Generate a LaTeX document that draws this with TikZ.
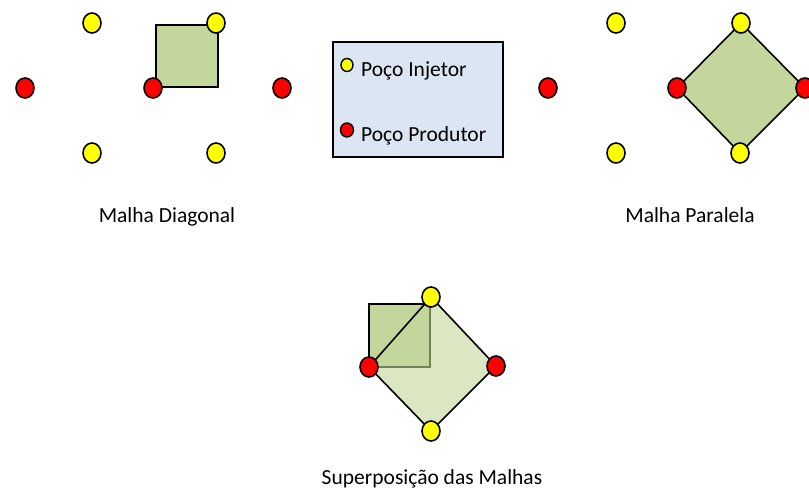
\documentclass[tikz,border=0pt]{standalone}
\usepackage{fontspec}
\setmainfont{Carlito}
\usetikzlibrary{shapes.geometric}
\definecolor{injy}{HTML}{FFFF00}
\definecolor{prodr}{HTML}{FF0000}
\definecolor{meshg}{HTML}{C3D69B}
\definecolor{legb}{HTML}{DCE6F2}
\tikzset{
  inj/.style={ellipse,draw=black,line width=1.6pt,fill=injy,minimum width=18pt,minimum height=20pt,inner sep=0pt},
  prod/.style={ellipse,draw=black,line width=1.6pt,fill=prodr,minimum width=18pt,minimum height=20pt,inner sep=0pt},
  sinj/.style={ellipse,draw=black,line width=1.4pt,fill=injy,minimum width=12pt,minimum height=13pt,inner sep=0pt},
  sprod/.style={ellipse,draw=black,line width=1.4pt,fill=prodr,minimum width=13pt,minimum height=14pt,inner sep=0pt},
  lbl/.style={anchor=base,inner sep=0pt,font=\fontsize{21.5}{25}\selectfont},
  meshline/.style={draw=black,line width=1.6pt,line join=miter},
}
\begin{document}
\begin{tikzpicture}[x=1pt,y=-1pt]
\useasboundingbox (0,0) rectangle (809,494);
% ---- Malha Diagonal ----
\filldraw[fill=meshg,meshline] (156,25) rectangle (218,87);
\node[inj] (d1) at (92,23) {};
\node[inj] (d2) at (216,23) {};
\node[inj] (d3) at (92,153) {};
\node[inj] (d4) at (216,153) {};
\node[prod] (d5) at (25,88) {};
\node[prod] (d6) at (153,88) {};
\node[prod] (d7) at (282,88) {};
\node[lbl] (dl) at (167,223) {Malha Diagonal};
% ---- Legend ----
\node[draw=black,line width=1.5pt,fill=legb,minimum width=170pt,minimum height=115pt,inner sep=0pt] (leg) at (418,99.5) {};
\node[sinj] (lg1) at (347,65) {};
\node[sprod] (lg2) at (347,130) {};
\node[lbl,anchor=base west] (lt1) at (361,77) {Poço Injetor};
\node[lbl,anchor=base west] (lt2) at (361,142) {Poço Produtor};
% ---- Malha Paralela ----
\coordinate (pt) at (741,23);
\coordinate (pl) at (677,88);
\coordinate (pr) at (805,88);
\coordinate (pb) at (740,153);
\filldraw[fill=meshg,meshline] (pt) -- (pr) -- (pb) -- (pl) -- cycle;
\node[inj] (p1) at (616,23) {};
\node[inj] (p2) at (pt) {};
\node[inj] (p3) at (616,153) {};
\node[inj] (p4) at (pb) {};
\node[prod] (p5) at (548,88) {};
\node[prod] (p6) at (pl) {};
\node[prod] (p7) at (pr) {};
\node[lbl] (pl2) at (690,223) {Malha Paralela};
% ---- Superposicao ----
\coordinate (st) at (431,297);
\coordinate (sl) at (369,367);
\coordinate (sr) at (496,366);
\coordinate (sb) at (431,431);
\filldraw[fill=meshg,meshline] (369,304) rectangle (430,367);
\fill[meshg,fill opacity=0.6] (st) -- (sr) -- (sb) -- (sl) -- cycle;
\draw[meshline] (st) -- (sr) -- (sb) -- (sl) -- cycle;
\node[inj] (s1) at (st) {};
\node[inj] (s2) at (sb) {};
\node[prod] (s3) at (sl) {};
\node[prod] (s4) at (sr) {};
\node[lbl] (sl2) at (432,484) {Superposição das Malhas};
\end{tikzpicture}
\end{document}
